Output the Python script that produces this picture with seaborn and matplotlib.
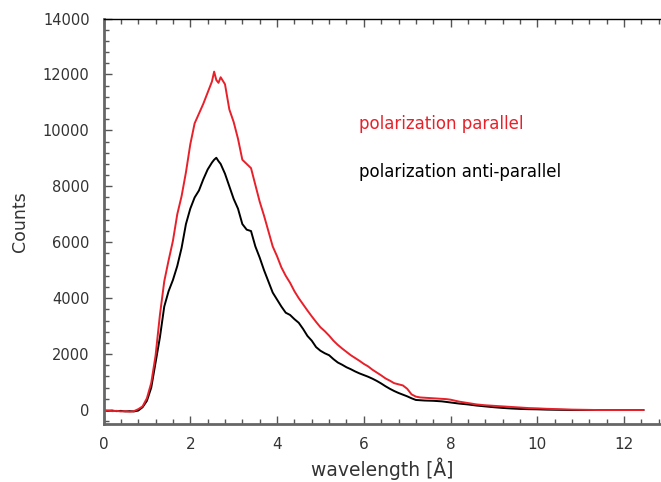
import matplotlib
matplotlib.use("Agg")
import matplotlib.pyplot as plt
import seaborn as sns
import pandas as pd
from matplotlib.ticker import MultipleLocator

# ---- data ----
wavelength = [0.0, 0.1, 0.2, 0.3, 0.4, 0.5, 0.6, 0.7, 0.8, 0.9,
              1.0, 1.1, 1.2, 1.3, 1.4, 1.5, 1.6, 1.7, 1.8, 1.9,
              2.0, 2.1, 2.2, 2.3, 2.4, 2.5, 2.55, 2.6, 2.65, 2.7, 2.8, 2.9,
              3.0, 3.1, 3.2, 3.3, 3.4, 3.5, 3.6, 3.7, 3.8, 3.9,
              4.0, 4.1, 4.2, 4.3, 4.4, 4.5, 4.6, 4.7, 4.8, 4.9,
              5.0, 5.1, 5.2, 5.3, 5.4, 5.5, 5.6, 5.7, 5.8, 5.9,
              6.0, 6.1, 6.2, 6.3, 6.4, 6.5, 6.6, 6.7, 6.8, 6.9,
              7.0, 7.1, 7.2, 7.3, 7.4, 7.5, 7.6, 7.7, 7.8, 7.9,
              8.0, 8.2, 8.4, 8.6, 8.8, 9.0, 9.2, 9.4, 9.6, 9.8,
              10.0, 10.2, 10.4, 10.6, 10.8, 11.0, 11.2, 11.4, 11.6, 11.8,
              12.0, 12.2, 12.45]

counts_parallel = [-30, -20, -40, -30, -50, -40, -60, -40, 30, 130,
                   420, 970, 1950, 3400, 4600, 5350, 6050, 7000, 7650, 8500,
                   9500, 10250, 10600, 10950, 11350, 11750, 12100, 11800, 11700, 11900, 11650, 10750,
                   10300, 9700, 8950, 8800, 8650, 8050, 7450, 6950, 6400, 5850,
                   5500, 5100, 4800, 4550, 4250, 4000, 3780, 3560, 3350, 3150,
                   2960, 2820, 2660, 2480, 2330, 2200, 2080, 1960, 1860, 1760,
                   1650, 1560, 1440, 1340, 1240, 1130, 1050, 960, 920, 880,
                   760, 560, 480, 450, 440, 430, 420, 410, 400, 390,
                   370, 300, 250, 200, 170, 150, 130, 110, 90, 70,
                   60, 45, 35, 25, 15, 10, 5, 0, 0, 0,
                   0, 0, 0]

counts_antiparallel = [-20, -30, -20, -40, -30, -50, -40, -50, -20, 100,
                       330, 800, 1700, 2600, 3700, 4250, 4650, 5150, 5800, 6650,
                       7200, 7600, 7850, 8250, 8600, 8850, 8950, 9020, 8900, 8800, 8450, 8000,
                       7550, 7200, 6650, 6450, 6400, 5850, 5450, 5000, 4600, 4200,
                       3950, 3700, 3480, 3400, 3250, 3120, 2900, 2650, 2480, 2250,
                       2120, 2030, 1960, 1820, 1700, 1620, 1530, 1460, 1380, 1310,
                       1250, 1190, 1120, 1040, 950, 850, 760, 680, 610, 550,
                       490, 420, 360, 350, 340, 335, 330, 320, 310, 290,
                       270, 230, 200, 160, 130, 100, 75, 55, 40, 30,
                       25, 15, 10, 5, 0, 0, 0, 0, 0, 0,
                       0, 0, 0]

label_parallel = "polarization parallel"
label_antiparallel = "polarization anti-parallel"
xlabel = "wavelength [Å]"
ylabel = "Counts"

RED = "#e8202a"
GREY = "#555555"
TXT = "#333333"

sns.set_style("ticks")
plt.rcParams["font.family"] = ["DejaVu Sans"]

df = pd.DataFrame({"wavelength": wavelength,
                   "parallel": counts_parallel,
                   "antiparallel": counts_antiparallel})

fig = plt.figure(figsize=(6.61, 4.82), dpi=100)
ax = fig.add_axes([0.1566, 0.1203, 1.0 - 0.1566, 0.9616 - 0.1203])

sns.lineplot(data=df, x="wavelength", y="antiparallel", color="black",
             lw=1.4, estimator=None, ax=ax)
sns.lineplot(data=df, x="wavelength", y="parallel", color=RED,
             lw=1.4, estimator=None, ax=ax)

ax.set_xlim(0, 12.85)
ax.set_ylim(-500, 14000)
ax.xaxis.set_major_locator(MultipleLocator(2))
ax.xaxis.set_minor_locator(MultipleLocator(0.4))
ax.yaxis.set_major_locator(MultipleLocator(2000))
ax.yaxis.set_minor_locator(MultipleLocator(400))

ax.tick_params(axis="both", which="both", direction="in", top=True,
               right=False, color=GREY, width=1.0)
ax.tick_params(axis="both", which="major", length=5.5)
ax.tick_params(axis="both", which="minor", length=3.5)
ax.tick_params(axis="y", which="major", labelsize=10.5, pad=10,
               labelcolor=TXT)
ax.tick_params(axis="x", which="major", labelsize=11, pad=9,
               labelcolor=TXT)

ax.spines["right"].set_visible(False)
ax.spines["top"].set_color("black")
ax.spines["top"].set_linewidth(1.0)
for s in ("left", "bottom"):
    ax.spines[s].set_color("#666666")
    ax.spines[s].set_linewidth(2.0)

ax.set_xlabel(xlabel, fontsize=13.5, color=TXT, labelpad=4)
ax.set_ylabel(ylabel, fontsize=12.5, color=TXT, labelpad=10)

ax.text(5.89, 10240, label_parallel, color=RED, fontsize=12, va="center",
        ha="left")
ax.text(5.89, 8520, label_antiparallel, color="black", fontsize=12,
        va="center", ha="left")

fig.savefig("out.png", dpi=100)
